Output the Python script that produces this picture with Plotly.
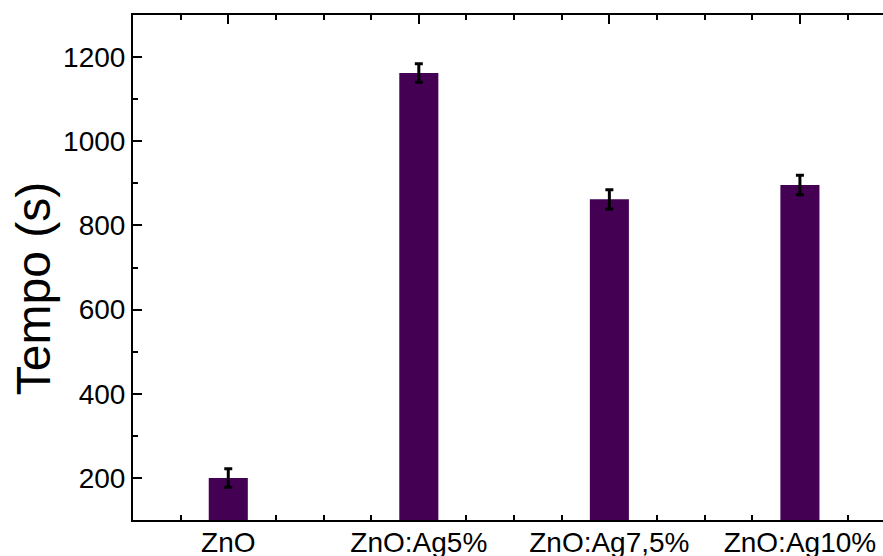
import plotly.graph_objects as go

# Sample labels and measured times (s) with their standard deviations
categories = ["ZnO", "ZnO:Ag5%", "ZnO:Ag7,5%", "ZnO:Ag10%"]
tempo = [200, 1162, 862, 896]
erro = [22, 22, 23, 23]

positions = list(range(len(categories)))

FONT = "Liberation Sans, Arial, sans-serif"
BAR_COLOR = "#440154"

fig = go.Figure(
    go.Bar(
        x=positions,
        y=tempo,
        width=0.205,
        marker=dict(color=BAR_COLOR, line=dict(width=0)),
        error_y=dict(type="data", array=erro, visible=True,
                     color="black", thickness=3, width=4),
    )
)

fig.update_layout(
    width=883,
    height=556,
    margin=dict(l=133, r=0, t=15, b=36),
    paper_bgcolor="white",
    plot_bgcolor="white",
    showlegend=False,
    font=dict(family=FONT, color="black"),
)

fig.update_xaxes(
    range=[-0.5, 3.436],
    automargin=False,
    tickmode="array",
    tickvals=positions,
    ticktext=categories,
    ticks="inside",
    ticklen=9,
    tickwidth=2,
    tickcolor="black",
    tickfont=dict(size=28, family=FONT, color="black"),
    ticklabelstandoff=-4,
    showline=True,
    linecolor="black",
    linewidth=2,
    mirror="ticks",
    showgrid=False,
    zeroline=False,
    layer="below traces",
    minor=dict(ticks="inside", ticklen=5, tickwidth=2, tickcolor="black",
               tick0=0, dtick=0.25, showgrid=False),
)

fig.update_yaxes(
    range=[100, 1300],
    automargin=False,
    tick0=200,
    dtick=200,
    ticks="inside",
    ticklen=9,
    tickwidth=2,
    tickcolor="black",
    tickfont=dict(size=28, family=FONT, color="black"),
    showline=True,
    linecolor="black",
    linewidth=2,
    showgrid=False,
    zeroline=False,
    minor=dict(ticks="inside", ticklen=5, tickwidth=2, tickcolor="black",
               tick0=100, dtick=200, showgrid=False),
)

# Y-axis title placed as rotated text left of the tick labels
fig.add_annotation(
    text="Tempo (s)",
    textangle=-90,
    xref="paper", yref="paper",
    x=-0.1333, y=0.457,
    xanchor="center", yanchor="middle",
    showarrow=False,
    font=dict(size=48, family=FONT, color="black"),
)

fig.write_html("out.html")
